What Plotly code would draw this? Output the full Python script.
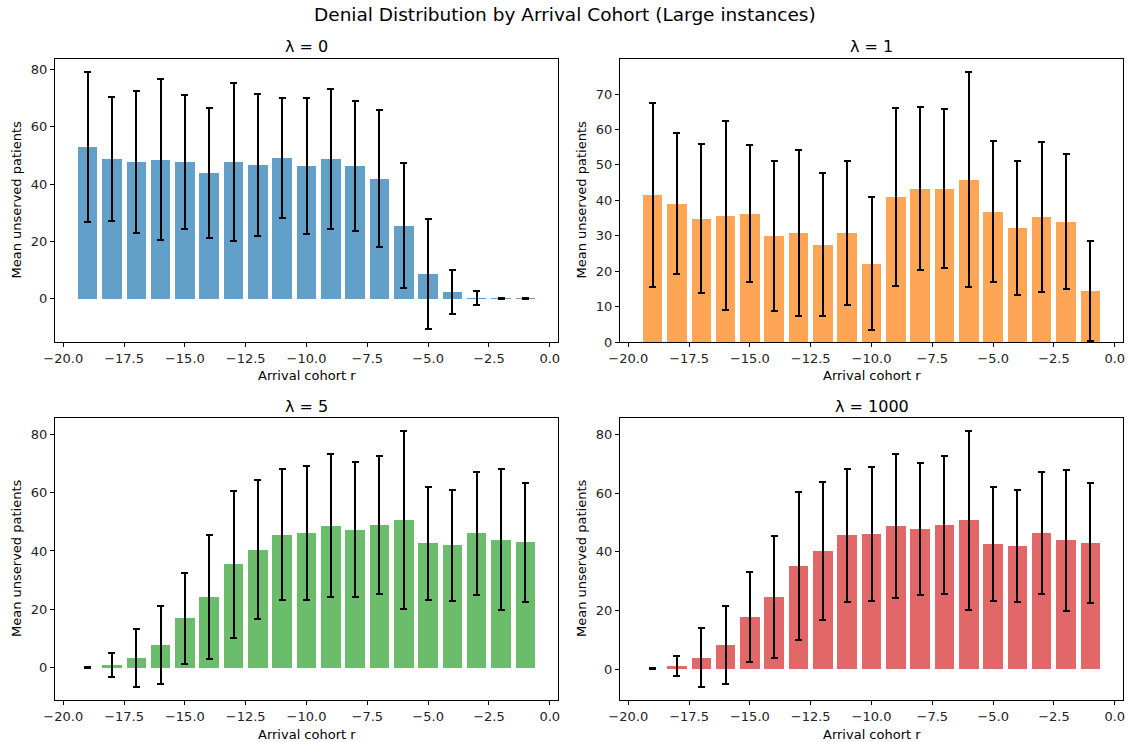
import plotly.graph_objects as go

cohorts = list(range(-19, 0))

mean_l0 = [53.0, 48.8, 47.8, 48.5, 47.8, 44.0, 47.8, 46.7, 49.2, 46.4, 48.8, 46.4, 41.9, 25.5, 8.7, 2.4, 0.3, 0.1, 0.1]
std_l0 = [26.2, 21.8, 24.8, 28.1, 23.3, 22.7, 27.5, 24.8, 21.0, 23.7, 24.4, 22.7, 24.0, 21.9, 19.3, 7.6, 2.3, 0.2, 0.2]

mean_l1 = [41.6, 39.1, 34.8, 35.7, 36.2, 30.0, 30.8, 27.5, 30.8, 22.1, 41.0, 43.3, 43.3, 45.8, 36.8, 32.3, 35.4, 34.0, 14.4]
std_l1 = [26.0, 20.0, 21.0, 26.8, 19.3, 21.2, 23.4, 20.2, 20.4, 18.8, 25.2, 23.1, 22.4, 30.3, 19.9, 18.9, 21.2, 19.0, 14.1]

mean_l5 = [0.1, 1.0, 3.4, 7.8, 17.0, 24.2, 35.4, 40.5, 45.6, 46.0, 48.7, 47.3, 49.0, 50.7, 42.6, 41.9, 46.0, 43.9, 42.9]
std_l5 = [0.2, 4.1, 10.0, 13.4, 15.6, 21.1, 25.2, 23.7, 22.5, 22.9, 24.5, 23.0, 23.6, 30.4, 19.3, 19.1, 21.0, 24.1, 20.5]

mean_l1000 = [0.1, 1.0, 3.9, 8.2, 17.7, 24.5, 35.1, 40.2, 45.6, 46.0, 48.7, 47.7, 49.0, 50.7, 42.6, 41.9, 46.3, 43.9, 42.9]
std_l1000 = [0.2, 3.5, 10.1, 13.3, 15.3, 20.9, 25.2, 23.6, 22.6, 22.9, 24.5, 22.6, 23.6, 30.5, 19.3, 19.2, 20.7, 24.1, 20.5]

panel_titles = ["λ = 0", "λ = 1", "λ = 5", "λ = 1000"]
panel_means = [mean_l0, mean_l1, mean_l5, mean_l1000]
panel_stds = [std_l0, std_l1, std_l5, std_l1000]
panel_colors = ["rgba(31,119,180,0.7)", "rgba(255,127,14,0.7)", "rgba(44,160,44,0.7)", "rgba(214,39,40,0.7)"]
panel_dticks = [20, 10, 20, 20]

x_ticks = [-20.0, -17.5, -15.0, -12.5, -10.0, -7.5, -5.0, -2.5, 0.0]
x_ticktext = [("%.1f" % v).replace("-", "\u2212") for v in x_ticks]

W, H = 1129, 742
# axes boxes in pixels (left, right, top, bottom)
boxes = [(55, 558, 59, 342), (620, 1123, 59, 342), (55, 558, 418, 700), (620, 1123, 418, 700)]

FONT = "DejaVu Sans, Liberation Sans, sans-serif"

fig = go.Figure()
annotations = []
for i in range(4):
    ax = "" if i == 0 else str(i + 1)
    m, s = panel_means[i], panel_stds[i]
    fig.add_trace(go.Bar(
        x=cohorts, y=m, width=0.8,
        marker=dict(color=panel_colors[i], line=dict(width=0)),
        error_y=dict(type="data", array=s, visible=True, color="black", thickness=2, width=3.5),
        xaxis="x" + ax, yaxis="y" + ax, showlegend=False,
    ))
    # matplotlib-like autoscale
    lo = min(0, min(a - b for a, b in zip(m, s)))
    hi = max(a + b for a, b in zip(m, s))
    span = hi - lo
    ylo = lo - 0.05 * span if lo < 0 else 0
    yhi = hi + 0.05 * span
    xlo, xhi = cohorts[0] - 0.4, cohorts[-1] + 0.4
    xs = xhi - xlo
    l, r, t, b = boxes[i]
    xdom = [l / W, r / W]
    ydom = [1 - b / H, 1 - t / H]
    common = dict(showline=True, linecolor="black", linewidth=1, mirror=True,
                  ticks="outside", ticklen=4, tickwidth=1, tickcolor="black",
                  showgrid=False, zeroline=False, automargin=False,
                  tickfont=dict(family=FONT, size=13, color="#222"))
    fig.update_layout(**{
        "xaxis" + ax: dict(domain=xdom, range=[xlo - 0.05 * xs, xhi + 0.05 * xs],
                           tickvals=x_ticks, ticktext=x_ticktext,
                           anchor="y" + ax, **common),
        "yaxis" + ax: dict(domain=ydom, range=[ylo, yhi], dtick=panel_dticks[i], tick0=0,
                           anchor="x" + ax, **common),
    })
    cx = (l + r) / 2 / W
    annotations.append(dict(text=panel_titles[i], x=cx, y=1 - (t - 12) / H, xref="paper", yref="paper",
                            xanchor="center", yanchor="middle", showarrow=False,
                            font=dict(family=FONT, size=16, color="black")))
    annotations.append(dict(text="Arrival cohort r", x=cx, y=1 - (b + 34) / H, xref="paper", yref="paper",
                            xanchor="center", yanchor="middle", showarrow=False,
                            font=dict(family=FONT, size=13, color="black")))
    annotations.append(dict(text="Mean unserved patients", x=(l - 39) / W, y=1 - (t + b) / 2 / H,
                            xref="paper", yref="paper", xanchor="center", yanchor="middle",
                            textangle=-90, showarrow=False,
                            font=dict(family=FONT, size=13, color="black")))

annotations.append(dict(text="Denial Distribution by Arrival Cohort (Large instances)", x=0.5, y=1 - 15 / H,
                        xref="paper", yref="paper", xanchor="center", yanchor="middle", showarrow=False,
                        font=dict(family=FONT, size=18.5, color="black")))

fig.update_layout(width=W, height=H, margin=dict(l=0, r=0, t=0, b=0),
                  paper_bgcolor="white", plot_bgcolor="white",
                  annotations=annotations, bargap=0, font=dict(family=FONT))
fig.write_html("out.html")
